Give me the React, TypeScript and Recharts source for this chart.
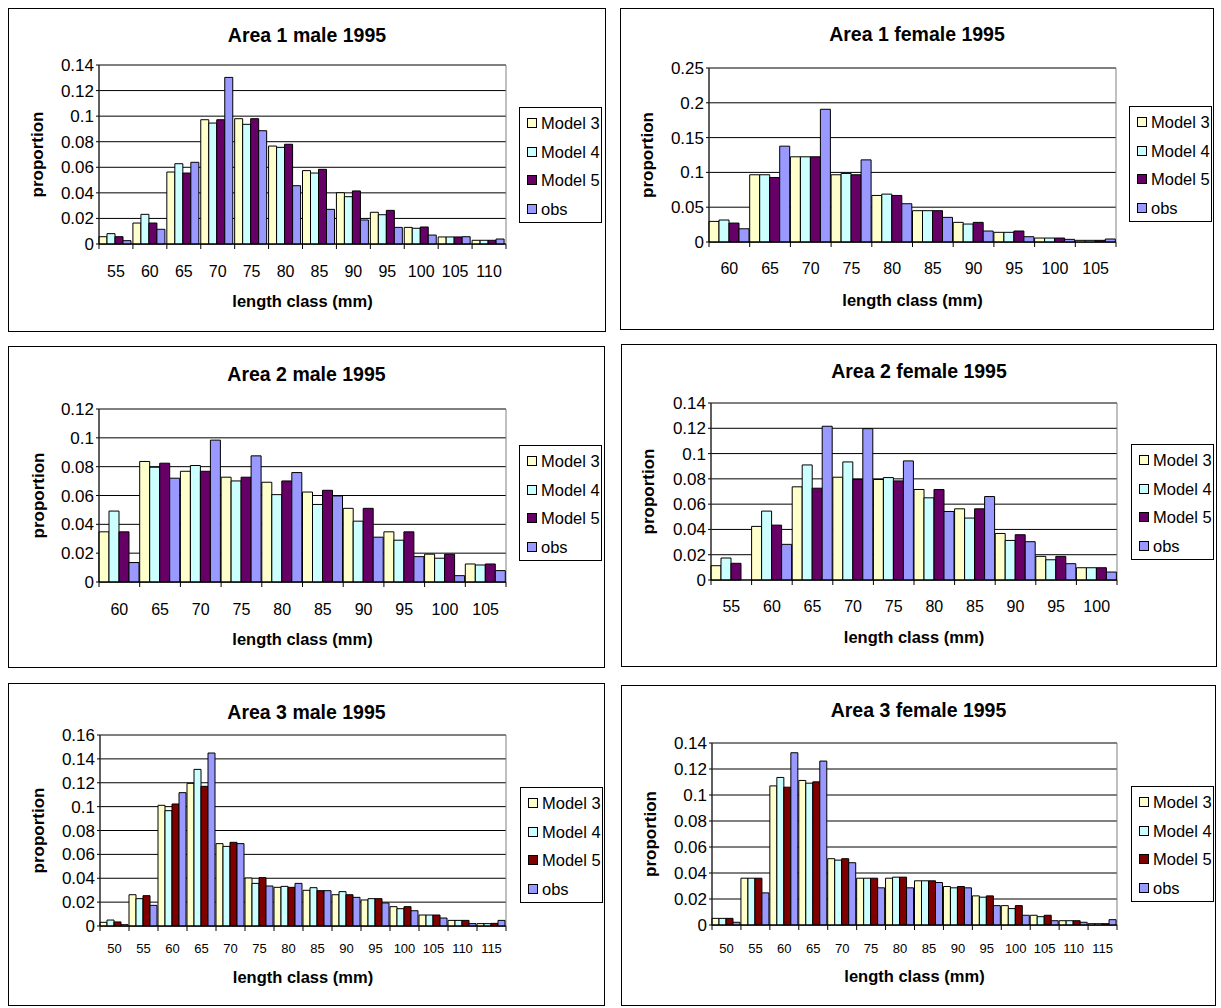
import React from 'react';
import { BarChart, Bar, XAxis, YAxis, CartesianGrid, ReferenceArea, Legend } from 'recharts';

const FONT = '"Liberation Sans", Arial, Helvetica, sans-serif';

// ---------- data ----------
const a1mLengths = [55, 60, 65, 70, 75, 80, 85, 90, 95, 100, 105, 110];
const a1mModel3 = [0.0057, 0.0164, 0.0563, 0.0972, 0.098, 0.0766, 0.0574, 0.0401, 0.0248, 0.013, 0.0055, 0.0029];
const a1mModel4 = [0.0081, 0.0232, 0.0628, 0.0946, 0.0936, 0.0756, 0.0555, 0.037, 0.0229, 0.0123, 0.0055, 0.0029];
const a1mModel5 = [0.0057, 0.0164, 0.0555, 0.0972, 0.098, 0.078, 0.0584, 0.0415, 0.0263, 0.0133, 0.0055, 0.0029];
const a1mObs = [0.0026, 0.0115, 0.0639, 0.1303, 0.0886, 0.0456, 0.0271, 0.0188, 0.013, 0.007, 0.0057, 0.0039];

const a1fLengths = [60, 65, 70, 75, 80, 85, 90, 95, 100, 105];
const a1fModel3 = [0.0296, 0.0966, 0.1224, 0.0966, 0.0669, 0.045, 0.0282, 0.0139, 0.0057, 0.0024];
const a1fModel4 = [0.0316, 0.0966, 0.1224, 0.0985, 0.0688, 0.045, 0.0258, 0.0139, 0.0057, 0.0024];
const a1fModel5 = [0.0272, 0.0927, 0.1224, 0.0966, 0.0669, 0.045, 0.0282, 0.0158, 0.0057, 0.0024];
const a1fObs = [0.019, 0.1377, 0.1907, 0.118, 0.055, 0.0354, 0.0158, 0.0076, 0.0038, 0.0043];

const a2mLengths = [60, 65, 70, 75, 80, 85, 90, 95, 100, 105];
const a2mModel3 = [0.0348, 0.0836, 0.0768, 0.0727, 0.0692, 0.0624, 0.0511, 0.0348, 0.0193, 0.0125];
const a2mModel4 = [0.0492, 0.0796, 0.0808, 0.0701, 0.0606, 0.0538, 0.0422, 0.029, 0.0165, 0.0118];
const a2mModel5 = [0.0348, 0.0824, 0.0768, 0.0727, 0.0701, 0.0636, 0.0511, 0.0348, 0.0193, 0.0125];
const a2mObs = [0.0135, 0.072, 0.0984, 0.0875, 0.0759, 0.0597, 0.0311, 0.0176, 0.0044, 0.0079];

const a2fLengths = [55, 60, 65, 70, 75, 80, 85, 90, 95, 100];
const a2fModel3 = [0.0113, 0.0424, 0.0737, 0.0813, 0.0795, 0.0716, 0.0563, 0.0368, 0.0187, 0.0097];
const a2fModel4 = [0.0174, 0.0545, 0.091, 0.0934, 0.081, 0.065, 0.049, 0.0313, 0.016, 0.0097];
const a2fModel5 = [0.0132, 0.0434, 0.0726, 0.0795, 0.0784, 0.0716, 0.0563, 0.0358, 0.0187, 0.0097];
const a2fObs = [0, 0.0282, 0.1216, 0.1197, 0.0942, 0.0542, 0.066, 0.0303, 0.0129, 0.0063];

const a3mLengths = [50, 55, 60, 65, 70, 75, 80, 85, 90, 95, 100, 105, 110, 115];
const a3mModel3 = [0.0031, 0.0262, 0.1011, 0.1195, 0.069, 0.0402, 0.0324, 0.0299, 0.0262, 0.0218, 0.0162, 0.0092, 0.0047, 0.002];
const a3mModel4 = [0.005, 0.0229, 0.0966, 0.1312, 0.0667, 0.0357, 0.0332, 0.0321, 0.0288, 0.0229, 0.0145, 0.0092, 0.0047, 0.002];
const a3mModel5 = [0.0034, 0.0254, 0.1022, 0.117, 0.0701, 0.0405, 0.0324, 0.0296, 0.0262, 0.0229, 0.0162, 0.0092, 0.0047, 0.0022];
const a3mObs = [0.0011, 0.0173, 0.1117, 0.1449, 0.069, 0.0335, 0.0357, 0.0296, 0.024, 0.0193, 0.0128, 0.0067, 0.002, 0.0047];

const a3fLengths = [50, 55, 60, 65, 70, 75, 80, 85, 90, 95, 100, 105, 110, 115];
const a3fModel3 = [0.0051, 0.036, 0.107, 0.1112, 0.051, 0.036, 0.036, 0.034, 0.0296, 0.0224, 0.0149, 0.0075, 0.0033, 0.001];
const a3fModel4 = [0.0051, 0.036, 0.1135, 0.1091, 0.0499, 0.036, 0.0368, 0.034, 0.0286, 0.0214, 0.0126, 0.0064, 0.0033, 0.001];
const a3fModel5 = [0.0051, 0.036, 0.106, 0.1101, 0.051, 0.036, 0.0368, 0.034, 0.0296, 0.0224, 0.0149, 0.0075, 0.0033, 0.001];
const a3fObs = [0.0021, 0.0247, 0.1325, 0.1261, 0.0479, 0.0286, 0.0286, 0.0327, 0.0286, 0.0149, 0.0075, 0.0033, 0.0021, 0.0041];

const yTicks012 = [0, 0.02, 0.04, 0.06, 0.08, 0.1, 0.12];
const yTicks014 = [0, 0.02, 0.04, 0.06, 0.08, 0.1, 0.12, 0.14];
const yTicks016 = [0, 0.02, 0.04, 0.06, 0.08, 0.1, 0.12, 0.14, 0.16];
const yTicks025 = [0, 0.05, 0.1, 0.15, 0.2, 0.25];

const seriesNames = ['Model 3', 'Model 4', 'Model 5', 'obs'];
const xTitle = 'length class (mm)';
const yTitle = 'proportion';

// ---------- styles ----------
const COL_M3 = '#FFFFCC';
const COL_M4 = '#CCFFFF';
const COL_M5_PURPLE = '#660066';
const COL_M5_RED = '#800000';
const COL_OBS = '#9999FF';

type Layout = {
  box: [number, number, number, number];
  plot: [number, number, number, number];
  legend: [number, number];
  titleBase: number;
  tickBase: number;
  tickFont: number;
  xTitleBase: number;
  yTitleBase: number;
};

const LEG_W = 83;
const LEG_H = 116;

const LegendBox = (props: any) => {
  const payload = props.payload || [];
  return (
    <div
      style={{
        width: LEG_W,
        height: LEG_H,
        boxSizing: 'border-box',
        border: '1px solid #000',
        background: '#fff',
        fontFamily: FONT,
        fontSize: 16.5,
        color: '#000',
        paddingTop: 1,
      }}
    >
      {payload.map((p: any) => (
        <div key={p.value} style={{ height: 28.5, display: 'flex', alignItems: 'center' }}>
          <span
            style={{
              display: 'inline-block',
              width: 10,
              height: 10,
              boxSizing: 'border-box',
              border: '1px solid #000',
              background: p.color,
              marginLeft: 7,
              flex: 'none',
            }}
          />
          <span style={{ marginLeft: 4, lineHeight: 1, whiteSpace: 'nowrap' }}>{p.value}</span>
        </div>
      ))}
    </div>
  );
};

const fmtY = (v: number) => String(Number(v.toFixed(2)));

function Panel(props: {
  title: string;
  lengths: number[];
  m3: number[];
  m4: number[];
  m5: number[];
  obs: number[];
  m5Color: string;
  yTicks: number[];
  layout: Layout;
}) {
  const { title, lengths, m3, m4, m5, obs, m5Color, yTicks, layout } = props;
  const [L, T, R, B] = layout.box;
  const [pl, pt, pr, pb] = layout.plot;
  const W = R - L;
  const H = B - T;
  const n = lengths.length;
  const halfBand = (pr - pl) / n / 2;
  const yMax = yTicks[yTicks.length - 1];
  const data = lengths.map((len, i) => ({ len: String(len), m3: m3[i], m4: m4[i], m5: m5[i], obs: obs[i] }));

  const XTick = (tp: any) => {
    const { x, y, payload, index } = tp;
    return (
      <g>
        <line x1={x - halfBand} x2={x - halfBand} y1={y} y2={y + 5} stroke="#000" />
        {index === n - 1 ? <line x1={x + halfBand} x2={x + halfBand} y1={y} y2={y + 5} stroke="#000" /> : null}
        <text x={x} y={y + layout.tickBase} textAnchor="middle" fontSize={layout.tickFont} fontFamily={FONT} fill="#000">
          {payload.value}
        </text>
      </g>
    );
  };

  const XTitle = (lp: any) => {
    const vb = lp && lp.viewBox;
    const cx = vb && typeof vb.x === 'number' && typeof vb.width === 'number' ? vb.x + vb.width / 2 : (pl + pr) / 2 - L;
    const y = pb - T + layout.xTitleBase;
    return (
      <text x={cx} y={y} textAnchor="middle" fontSize={16.5} fontWeight="bold" fontFamily={FONT} fill="#000">
        {xTitle}
      </text>
    );
  };

  const YTitle = (lp: any) => {
    const vb = lp && lp.viewBox;
    const cy = vb && typeof vb.y === 'number' && typeof vb.height === 'number' ? vb.y + vb.height / 2 : (pt + pb) / 2 - T;
    const bx = layout.yTitleBase - L;
    return (
      <text
        x={bx}
        y={cy}
        transform={`rotate(-90 ${bx} ${cy})`}
        textAnchor="middle"
        fontSize={17}
        fontWeight="bold"
        fontFamily={FONT}
        fill="#000"
      >
        {yTitle}
      </text>
    );
  };

  return (
    <div style={{ position: 'absolute', left: L, top: T, width: W, height: H }}>
      <BarChart
        width={W}
        height={H}
        data={data}
        margin={{ top: pt - T, right: R - pr, bottom: 0, left: 0 }}
        barCategoryGap={0}
        barGap={0}
        style={{ fontFamily: FONT }}
      >
        <CartesianGrid vertical={false} stroke="#000" strokeWidth={1} />
        <Bar dataKey="m3" name={seriesNames[0]} fill={COL_M3} stroke="#000" strokeWidth={1} isAnimationActive={false} />
        <Bar dataKey="m4" name={seriesNames[1]} fill={COL_M4} stroke="#000" strokeWidth={1} isAnimationActive={false} />
        <Bar dataKey="m5" name={seriesNames[2]} fill={m5Color} stroke="#000" strokeWidth={1} isAnimationActive={false} />
        <Bar dataKey="obs" name={seriesNames[3]} fill={COL_OBS} stroke="#000" strokeWidth={1} isAnimationActive={false} />
        <ReferenceArea y1={0} y2={yMax} fill="none" fillOpacity={0} stroke="#808080" strokeWidth={1} ifOverflow="visible" />
        <XAxis
          dataKey="len"
          height={B - pb}
          tickLine={false}
          tickSize={0}
          tickMargin={0}
          interval={0}
          stroke="#000"
          tick={XTick}
          label={XTitle}
        />
        <YAxis
          width={pl - L}
          domain={[0, yMax]}
          ticks={yTicks}
          interval={0}
          tickSize={3}
          tickMargin={2}
          stroke="#000"
          tick={{ fill: '#000', fontSize: 17, fontFamily: FONT }}
          tickFormatter={fmtY}
          label={YTitle}
        />
        <Legend
          layout="vertical"
          align="center"
          verticalAlign="middle"
          wrapperStyle={{ left: layout.legend[0] - L, top: layout.legend[1] - T, width: LEG_W, height: LEG_H, margin: 0, padding: 0 }}
          content={LegendBox}
        />
      </BarChart>
      <svg width={W} height={H} style={{ position: 'absolute', left: 0, top: 0, pointerEvents: 'none' }}>
        <rect x={0.5} y={0.5} width={W - 1} height={H - 1} fill="none" stroke="#000" strokeWidth={1} />
        <text x={W / 2} y={layout.titleBase - T} textAnchor="middle" fontSize={19.5} fontWeight="bold" fontFamily={FONT} fill="#000">
          {title}
        </text>
      </svg>
    </div>
  );
}

const L1: Layout = { box: [8, 8, 606, 332], plot: [99, 65, 506, 244], legend: [519, 107], titleBase: 41.7, tickBase: 32.7, tickFont: 16, xTitleBase: 62.5, yTitleBase: 42.7 };
const L2: Layout = { box: [620, 8, 1214, 330], plot: [709, 68, 1116, 242], legend: [1129, 106], titleBase: 41, tickBase: 32, tickFont: 16, xTitleBase: 64, yTitleBase: 652.7 };
const L3: Layout = { box: [8, 346, 605, 668], plot: [99, 409, 506, 582], legend: [519, 445], titleBase: 380.7, tickBase: 33, tickFont: 16, xTitleBase: 63, yTitleBase: 43.7 };
const L4: Layout = { box: [621, 344, 1217, 667], plot: [711, 403, 1117, 580], legend: [1131, 444], titleBase: 378.3, tickBase: 32.3, tickFont: 16, xTitleBase: 63.3, yTitleBase: 654.3 };
const L5: Layout = { box: [8, 683, 605, 1006], plot: [100, 735, 506, 926], legend: [520, 787], titleBase: 719.3, tickBase: 27.3, tickFont: 13, xTitleBase: 57.3, yTitleBase: 43.7 };
const L6: Layout = { box: [621, 685, 1216, 1006], plot: [712, 743, 1117, 925], legend: [1131, 786], titleBase: 717.3, tickBase: 27.7, tickFont: 13, xTitleBase: 56.7, yTitleBase: 656 };

export default function App() {
  return (
    <div style={{ position: 'absolute', left: 0, top: 0, width: 1221, height: 1008, background: '#fff', fontFamily: FONT }}>
      <Panel title="Area 1 male 1995" lengths={a1mLengths} m3={a1mModel3} m4={a1mModel4} m5={a1mModel5} obs={a1mObs} m5Color={COL_M5_PURPLE} yTicks={yTicks014} layout={L1} />
      <Panel title="Area 1 female 1995" lengths={a1fLengths} m3={a1fModel3} m4={a1fModel4} m5={a1fModel5} obs={a1fObs} m5Color={COL_M5_PURPLE} yTicks={yTicks025} layout={L2} />
      <Panel title="Area 2 male 1995" lengths={a2mLengths} m3={a2mModel3} m4={a2mModel4} m5={a2mModel5} obs={a2mObs} m5Color={COL_M5_PURPLE} yTicks={yTicks012} layout={L3} />
      <Panel title="Area 2 female 1995" lengths={a2fLengths} m3={a2fModel3} m4={a2fModel4} m5={a2fModel5} obs={a2fObs} m5Color={COL_M5_PURPLE} yTicks={yTicks014} layout={L4} />
      <Panel title="Area 3 male 1995" lengths={a3mLengths} m3={a3mModel3} m4={a3mModel4} m5={a3mModel5} obs={a3mObs} m5Color={COL_M5_RED} yTicks={yTicks016} layout={L5} />
      <Panel title="Area 3 female 1995" lengths={a3fLengths} m3={a3fModel3} m4={a3fModel4} m5={a3fModel5} obs={a3fObs} m5Color={COL_M5_RED} yTicks={yTicks014} layout={L6} />
    </div>
  );
}
